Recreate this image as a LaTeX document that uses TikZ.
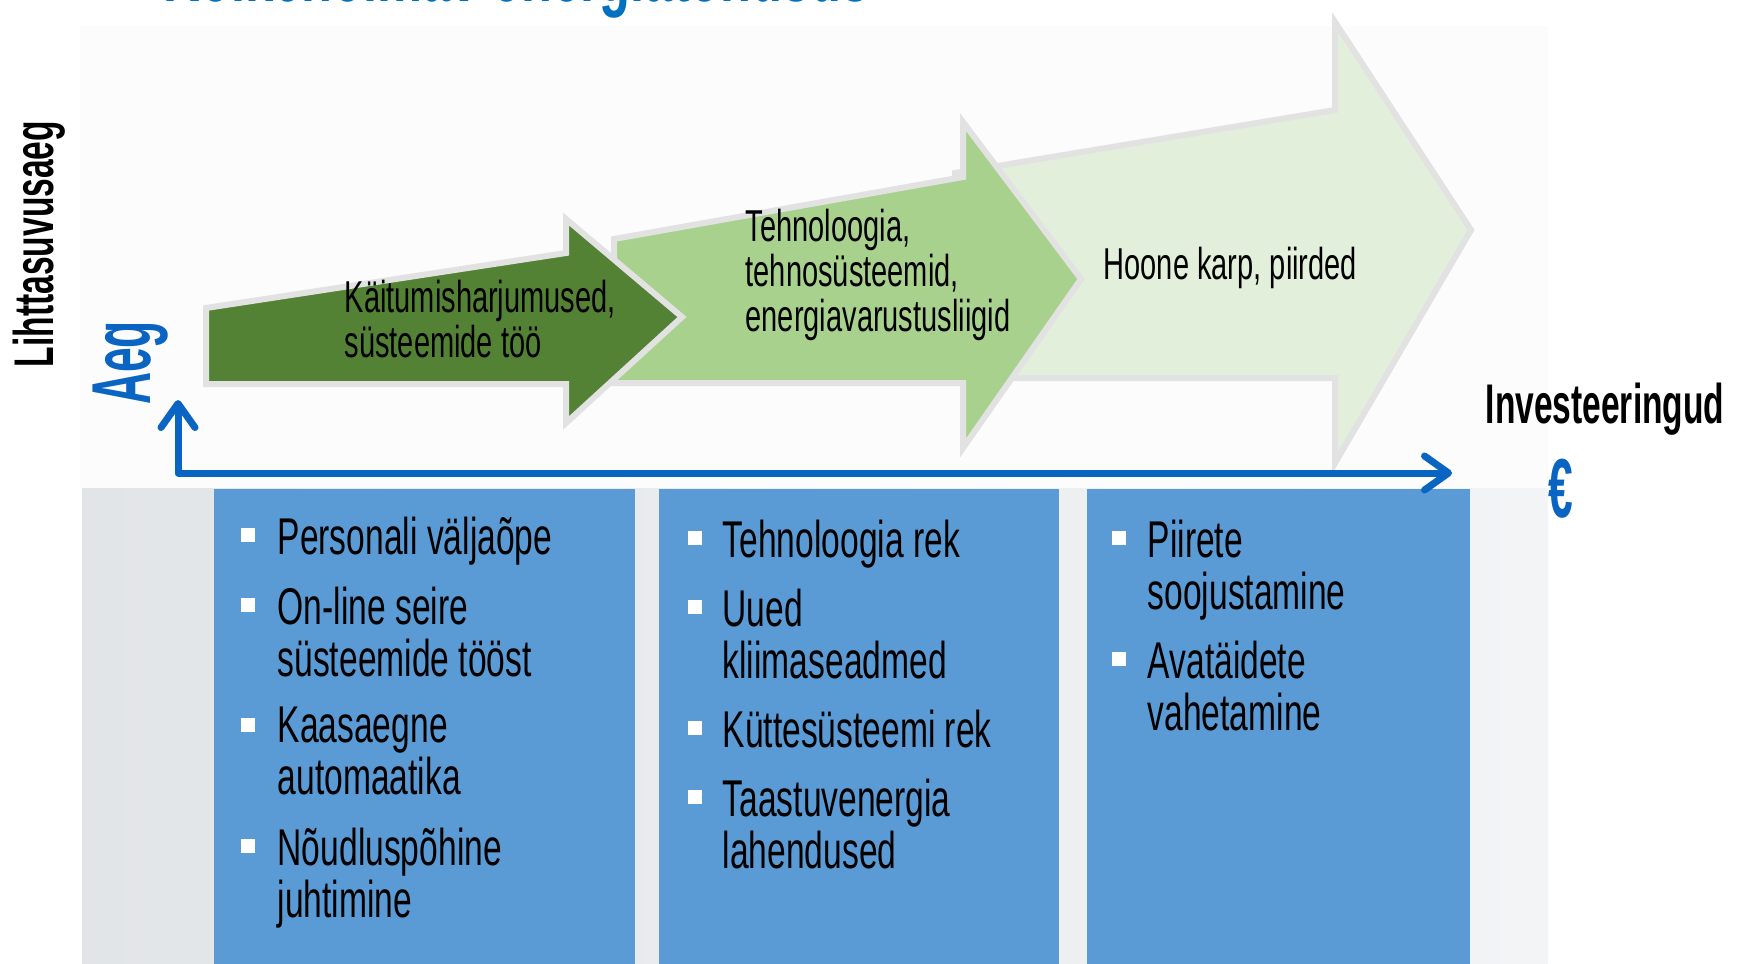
\documentclass[tikz,border=0pt]{standalone}
\usepackage{fontspec}
\setmainfont{Liberation Sans}[FakeStretch=0.65]
\newfontfamily\labelfont{Liberation Sans}[FakeStretch=0.6]
\newfontfamily\aegfont{Liberation Sans}[FakeStretch=0.53]
\newfontfamily\titlefont{Liberation Sans}[FakeStretch=0.64]
\usetikzlibrary{positioning,arrows.meta}
\definecolor{axisblue}{RGB}{10,100,194}
\definecolor{titleblue}{RGB}{0,112,192}
\definecolor{colblue}{RGB}{91,155,213}
\definecolor{darkleaf}{RGB}{84,130,53}
\definecolor{midleaf}{RGB}{169,209,142}
\definecolor{paleleaf}{RGB}{226,239,218}
\definecolor{rim}{RGB}{226,226,226}
\definecolor{fog}{RGB}{252,252,252}
\definecolor{mist}{RGB}{226,229,232}
\definecolor{mistlight}{RGB}{243,244,246}
\tikzset{
  leaf/.style={
    fill=#1,
    draw=rim,
    line width=0.06cm,
  },
  leaf text/.style={
    anchor=north west,
    align=left,
    inner sep=0pt,
    font={\fontsize{12.7}{12.8}\selectfont},
  },
  column/.style={
    fill=colblue,
    minimum width={#1*0.01cm},
    minimum height=4.75cm,
    anchor=north west,
    inner sep=0pt,
  },
  item/.style={
    anchor=north west,
    align=left,
    inner sep=0pt,
    font={\fontsize{14.7}{14.8}\selectfont},
  },
  bullet/.style={
    fill=white,
    minimum size=0.14cm,
    inner sep=0pt,
  },
  axis/.style={
    draw=axisblue,
    line width=0.07cm,
    line join=round,
    line cap=round,
    {Straight Barb[length=2.4mm,width=3.4mm,round]}-{Straight Barb[length=2.4mm,width=3.4mm,round]},
  },
  side label/.style={
    inner sep=0pt,
    font={\labelfont\bfseries\fontsize{15.9}{16}\selectfont},
  },
  blue label/.style={
    inner sep=0pt,
    text=axisblue,
    font={\aegfont\bfseries\fontsize{23.8}{24}\selectfont},
  },
  title/.style={
    anchor=base west,
    inner sep=0pt,
    text=titleblue,
    font={\titlefont\bfseries\fontsize{22.5}{23}\selectfont},
  }
}

\begin{document}
\begin{tikzpicture}[x=0.01cm,y=-0.01cm]
        \useasboundingbox (0,0) rectangle (1737,963);
        \fill[white] (0,0) rectangle (1737,963);
        \fill[fog] (80,26) rectangle (1548,488);
        \shade[left color=mist, right color=mistlight] (82,488) rectangle (1548,963);

        \node[title] (t) at (163,1) {Kõikehõlmav energiatõhusus};

        \draw[leaf=paleleaf] (955,173) -- (1335,110) -- (1335,22) -- (1471,230) -- (1335,463) -- (1335,378) -- (955,378) -- cycle;
        \draw[leaf=midleaf] (614,239) -- (963,177) -- (963,122) -- (1081,279) -- (963,448) -- (963,383) -- (614,383) -- cycle;
        \draw[leaf=darkleaf] (206,308) -- (566,253) -- (566,219) -- (682,317) -- (566,423) -- (566,384) -- (206,384) -- cycle;

        \node[leaf text] (l1) at (344,279) {Käitumisharjumused,\\süsteemide töö};
        \node[leaf text] (l2) at (745,208) {Tehnoloogia,\\tehnosüsteemid,\\energiavarustusliigid};
        \node[leaf text] (l3) at (1103,246) {Hoone karp, piirded};

        \node[column=421] (c1) at (213,488) {};
        \node[column=400, right=0.23cm of c1] (c2) {};
        \node[column=383, right=0.26cm of c2] (c3) {};

        \node[item] (p1) at (277,516) {Personali väljaõpe};
        \node[item] (p2) at (277,586) {On-line seire\\süsteemide tööst};
        \node[item] (p3) at (277,706) {Kaasaegne\\automaatika};
        \node[item] (p4) at (277,827) {Nõudluspõhine\\juhtimine};
        \node[item] (q1) at (722,519) {Tehnoloogia rek};
        \node[item] (q2) at (722,588) {Uued\\kliimaseadmed};
        \node[item] (q3) at (722,709) {Küttesüsteemi rek};
        \node[item] (q4) at (722,778) {Taastuvenergia\\lahendused};
        \node[item] (r1) at (1147,519) {Piirete\\soojustamine};
        \node[item] (r2) at (1147,640) {Avatäidete\\vahetamine};

        \node[bullet] at ([shift={(-29,19)}]p1.north west) {};
        \node[bullet] at ([shift={(-29,19)}]p2.north west) {};
        \node[bullet] at ([shift={(-29,19)}]p3.north west) {};
        \node[bullet] at ([shift={(-29,19)}]p4.north west) {};
        \node[bullet] at ([shift={(-27,19)}]q1.north west) {};
        \node[bullet] at ([shift={(-27,19)}]q2.north west) {};
        \node[bullet] at ([shift={(-27,19)}]q3.north west) {};
        \node[bullet] at ([shift={(-27,19)}]q4.north west) {};
        \node[bullet] at ([shift={(-28,19)}]r1.north west) {};
        \node[bullet] at ([shift={(-28,19)}]r2.north west) {};

        \coordinate (o) at (178,473);
        \coordinate (ytop) at (178,400);
        \coordinate (xend) at (1452,473);
        \draw[axis] (ytop) -- (o) -- (xend);

        \node[side label, rotate=90, anchor=base] (ly) at (53,244) {Lihttasuvusaeg};
        \node[blue label, rotate=90, anchor=base] (aeg) at (150,363) {Aeg};
        \node[side label, anchor=base west] (lx) at (1485,423) {Investeeringud};
        \node[blue label, anchor=base west] (eur) at (1548,517) {€};
      \end{tikzpicture}
\end{document}
